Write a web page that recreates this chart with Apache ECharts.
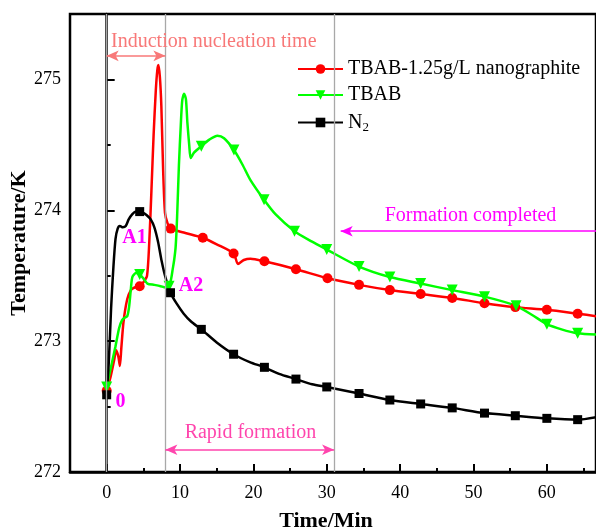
<!DOCTYPE html>
<html><head><meta charset="utf-8">
<script src="https://cdn.jsdelivr.net/npm/echarts@6/dist/echarts.min.js"></script>
<style>html,body{margin:0;padding:0;background:#fff}#c{width:596px;height:529px}</style>
</head><body><div id="c"></div>
<script>
// ---- data (Time/Min, Temperature/K) ----
const seriesNames = ['TBAB-1.25g/L nanographite', 'TBAB', 'N2'];

const redX = [0, 0.5, 1.0, 1.3, 1.6, 1.8, 2.0, 2.3, 2.8, 3.3, 3.8, 4.5, 5.0, 5.5, 5.8, 6.1, 6.4, 6.7, 6.9, 7.05, 7.25, 7.45, 7.7, 7.95, 8.3, 8.73, 10.5, 13.1, 15, 17.3, 17.9, 18.7, 19.6, 21.5, 25.8, 30.1, 34.4, 38.6, 42.8, 47.1, 51.5, 55.7, 60, 64.2, 66.8];
const redY = [272.62, 272.72, 272.85, 272.93, 272.88, 272.81, 272.95, 273.15, 273.32, 273.39, 273.41, 273.42, 273.45, 273.5, 273.75, 274.15, 274.58, 274.92, 275.07, 275.11, 275.02, 274.8, 274.3, 273.98, 273.9, 273.86, 273.83, 273.79, 273.74, 273.67, 273.59, 273.62, 273.63, 273.61, 273.55, 273.48, 273.43, 273.39, 273.36, 273.33, 273.29, 273.26, 273.24, 273.21, 273.19];
const redMarks = [0, 4.5, 8.73, 13.1, 17.3, 21.5, 25.8, 30.1, 34.4, 38.6, 42.8, 47.1, 51.5, 55.7, 60, 64.2];

const greenX = [0, 0.5, 1.2, 1.7, 2.1, 2.5, 2.8, 3.05, 3.3, 3.5, 4.0, 4.5, 5.0, 5.55, 6.5, 7.36, 8.0, 8.5, 8.8, 9.0, 9.2, 9.4, 9.6, 9.85, 10.1, 10.3, 10.55, 10.8, 11.0, 11.25, 11.45, 11.9, 12.9, 14, 15.1, 16.0, 17.35, 18.5, 19.6, 21.45, 23, 25.6, 28, 30, 34.4, 38.6, 42.8, 47.1, 51.5, 55.8, 58, 60, 62, 64.2, 66.8];
const greenY = [272.65, 272.78, 272.96, 273.1, 273.16, 273.18, 273.19, 273.26, 273.4, 273.49, 273.52, 273.51, 273.48, 273.44, 273.43, 273.42, 273.41, 273.42, 273.48, 273.55, 273.62, 273.72, 273.95, 274.35, 274.65, 274.84, 274.89, 274.85, 274.67, 274.5, 274.4, 274.44, 274.49, 274.54, 274.57, 274.55, 274.46, 274.35, 274.23, 274.08, 273.97, 273.84, 273.76, 273.70, 273.57, 273.49, 273.44, 273.39, 273.34, 273.27, 273.2, 273.13, 273.09, 273.06, 273.05];
const greenMarks = [0, 4.5, 8.5, 12.9, 17.35, 21.45, 25.6, 30, 34.4, 38.6, 42.8, 47.1, 51.5, 55.8, 60, 64.2];

const n2X = [0, 0.3, 0.6, 0.9, 1.2, 1.5, 1.8, 2.2, 2.6, 3.0, 3.5, 4.0, 4.5, 5.0, 5.5, 6.0, 6.5, 7.0, 7.5, 8.0, 8.7, 9.5, 10.5, 11.5, 12.9, 15, 17.3, 19.5, 21.5, 23.5, 25.8, 28, 30, 34.4, 38.6, 42.8, 47.1, 51.5, 55.7, 60, 64.2, 66.8];
const n2Y = [272.59, 272.85, 273.25, 273.55, 273.78, 273.86, 273.88, 273.87, 273.88, 273.93, 273.97, 273.99, 273.99, 273.98, 273.96, 273.93, 273.87, 273.76, 273.61, 273.49, 273.37, 273.29, 273.21, 273.15, 273.09, 272.99, 272.90, 272.84, 272.80, 272.75, 272.71, 272.67, 272.65, 272.60, 272.55, 272.52, 272.49, 272.45, 272.43, 272.41, 272.40, 272.42];
const n2Marks = [0, 4.5, 8.7, 12.9, 17.3, 21.5, 25.8, 30, 34.4, 38.6, 42.8, 47.1, 51.5, 55.7, 60, 64.2];

const xLabelTicks = [0, 10, 20, 30, 40, 50, 60];
const xMinorTicks = [5, 15, 25, 35, 45, 55, 65];
const stageLines = [0, 8, 31];

// ---- chart ----
const FONT = 'Liberation Serif';
function build(xs, ys, marks) {
  return xs.map((x, i) => marks.includes(x) ? [x, ys[i]] : { value: [x, ys[i]], symbol: 'none' });
}
const chart = echarts.init(document.getElementById('c'));
chart.setOption({
  animation: false,
  grid: { left: 70, top: 14, width: 526, bottom: 57, show: true, borderColor: '#000', borderWidth: 2.5,
    outerBoundsMode: 'none', containLabel: false },
  legend: {
    data: seriesNames, orient: 'vertical', left: 292, top: 54,
    itemWidth: 45, itemHeight: 12, itemGap: 6,
    formatter: n => n === 'N2' ? 'N{sub|2}' : n,
    textStyle: { fontFamily: FONT, fontSize: 20, lineHeight: 20, color: '#000',
      rich: { sub: { fontFamily: FONT, fontSize: 13, lineHeight: 13, color: '#000', padding: [10, 0, 0, 0] } } }
  },
  xAxis: [{
    type: 'value', min: -5, max: 66.7,
    name: 'Time/Min', nameLocation: 'middle', nameGap: 38,
    nameTextStyle: { fontFamily: FONT, fontSize: 22, fontWeight: 'bold', color: '#000', padding: [0, 14, 0, 0] },
    axisLine: { lineStyle: { color: '#000', width: 2.5 } },
    axisTick: { inside: true, length: 8, lineStyle: { width: 2, color: '#000' }, customValues: xLabelTicks },
    axisLabel: { fontFamily: FONT, fontSize: 18, color: '#000', margin: 12, customValues: xLabelTicks },
    splitLine: { show: false }
  }, {
    type: 'value', min: -5, max: 66.7, position: 'bottom',
    axisLine: { show: false },
    axisTick: { inside: true, length: 4, lineStyle: { width: 2, color: '#000' }, customValues: xMinorTicks },
    axisLabel: { show: false }, splitLine: { show: false }
  }],
  yAxis: {
    type: 'value', min: 272, max: 275.5, interval: 1,
    name: 'Temperature/K', nameLocation: 'middle', nameGap: 40, nameMoveOverlap: false,
    nameTextStyle: { fontFamily: FONT, fontSize: 22, fontWeight: 'bold', color: '#000' },
    axisLine: { show: true, lineStyle: { color: '#000', width: 2.5 } },
    axisTick: { inside: true, length: 8, lineStyle: { width: 2, color: '#000' } },
    minorTick: { show: true, splitNumber: 2, length: 4, lineStyle: { width: 2, color: '#000' } },
    axisLabel: { fontFamily: FONT, fontSize: 18, color: '#000', margin: 9,
      formatter: v => Number.isInteger(v) ? String(v) : '' },
    splitLine: { show: false }
  },
  series: [
    {
      name: seriesNames[0], type: 'line', data: build(redX, redY, redMarks),
      symbol: 'circle', symbolSize: 10, showAllSymbol: true, smooth: 0.25,
      lineStyle: { color: '#ff0000', width: 2.5 }, itemStyle: { color: '#ff0000' },
      markLine: {
        silent: true, symbol: 'none', label: { show: false },
        lineStyle: { color: '#a8a8a8', width: 1.3, type: 'solid' },
        data: stageLines.map(v => ({ xAxis: v }))
      },
      markPoint: {
        silent: true, symbol: 'circle', symbolSize: 0,
        data: [
          { coord: [14.6, 275.29], label: { show: true, formatter: 'Induction nucleation time', color: '#f87878', fontFamily: FONT, fontSize: 20 } },
          { coord: [19.6, 272.3], label: { show: true, formatter: 'Rapid formation', color: '#ff45ad', fontFamily: FONT, fontSize: 20 } },
          { coord: [49.6, 273.96], label: { show: true, formatter: 'Formation completed', color: '#ff00ff', fontFamily: FONT, fontSize: 20 } },
          { coord: [3.8, 273.79], label: { show: true, formatter: 'A1', color: '#ff00ff', fontFamily: FONT, fontSize: 20, fontWeight: 'bold' } },
          { coord: [11.5, 273.42], label: { show: true, formatter: 'A2', color: '#ff00ff', fontFamily: FONT, fontSize: 20, fontWeight: 'bold' } },
          { coord: [1.9, 272.54], label: { show: true, formatter: '0', color: '#ff00ff', fontFamily: FONT, fontSize: 20, fontWeight: 'bold' } }
        ]
      }
    },
    {
      name: seriesNames[1], type: 'line', data: build(greenX, greenY, greenMarks),
      symbol: 'triangle', symbolRotate: 180, symbolSize: 11, showAllSymbol: true, smooth: 0.25,
      lineStyle: { color: '#00ff00', width: 2.5 }, itemStyle: { color: '#00ff00' },
      markLine: {
        silent: true, label: { show: false }, symbolSize: [8, 12],
        data: [
          [{ coord: [0, 275.18], symbol: 'arrow', lineStyle: { color: '#f87878', width: 1.5, type: 'solid' } }, { coord: [8, 275.18], symbol: 'arrow' }],
          [{ coord: [8, 272.17], symbol: 'arrow', lineStyle: { color: '#ff45ad', width: 1.5, type: 'solid' } }, { coord: [31, 272.17], symbol: 'arrow' }],
          [{ coord: [66.7, 273.84], symbol: 'none', lineStyle: { color: '#ff00ff', width: 1.5, type: 'solid' } }, { coord: [31.9, 273.84], symbol: 'arrow' }]
        ]
      }
    },
    {
      name: seriesNames[2], type: 'line', data: build(n2X, n2Y, n2Marks),
      symbol: 'rect', symbolSize: 9, showAllSymbol: true, smooth: 0.25,
      lineStyle: { color: '#000', width: 2.5 }, itemStyle: { color: '#000' }
    }
  ]
});
</script>
</body></html>
